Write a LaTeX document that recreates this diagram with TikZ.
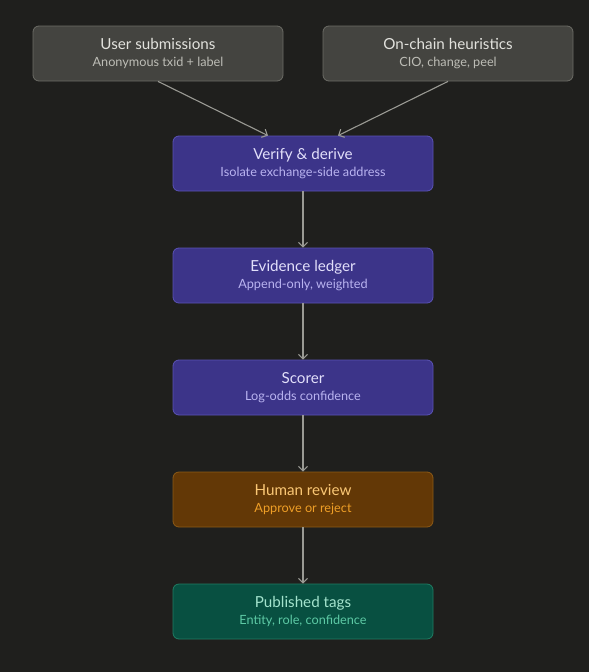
\documentclass[tikz,border=0pt]{standalone}
\usepackage{fontspec}
\setmainfont{Lato}
\usetikzlibrary{arrows.meta}
\definecolor{bg}{HTML}{1F1F1D}
\definecolor{grayfill}{HTML}{444440}
\definecolor{grayline}{HTML}{6C6C66}
\definecolor{graytitle}{HTML}{E2E2DD}
\definecolor{graysub}{HTML}{BDBDB6}
\definecolor{purfill}{HTML}{3C3489}
\definecolor{purline}{HTML}{5B53B5}
\definecolor{purtitle}{HTML}{E2DFFA}
\definecolor{pursub}{HTML}{B9B3F0}
\definecolor{brfill}{HTML}{633806}
\definecolor{brline}{HTML}{8C5A16}
\definecolor{brtitle}{HTML}{FAC775}
\definecolor{brsub}{HTML}{EF9F27}
\definecolor{grfill}{HTML}{085041}
\definecolor{grline}{HTML}{1F7D63}
\definecolor{grtitle}{HTML}{A3E3CD}
\definecolor{grsub}{HTML}{5DCAA5}
\definecolor{arrowc}{HTML}{9A9A94}
\tikzset{
  box/.style={rounded corners=6pt, line width=0.8pt, minimum height=55pt, inner sep=0pt, align=center},
  graybox/.style={box, draw=grayline, fill=grayfill, minimum width=250pt},
  purbox/.style={box, draw=purline, fill=purfill, minimum width=260pt},
  brbox/.style={box, draw=brline, fill=brfill, minimum width=260pt},
  grbox/.style={box, draw=grline, fill=grfill, minimum width=260pt},
  conn/.style={draw=arrowc, line width=1.1pt, -{Straight Barb[length=4.5pt,width=9pt,line width=1.1pt]}},
}
\newcommand{\boxtext}[4]{{\fontsize{15.2}{18}\selectfont\color{#1}#2}\\[4.5pt]{\fontsize{12.7}{15}\selectfont\color{#3}#4}}
\begin{document}
\begin{tikzpicture}[x=1pt,y=1pt]
\useasboundingbox[fill=bg] (0,0) rectangle (589,-672);
\node[graybox] (user) at (158,-53.5) {\boxtext{graytitle}{User submissions}{graysub}{Anonymous txid + label}};
\node[graybox] (chain) at (448,-53.5) {\boxtext{graytitle}{On-chain heuristics}{graysub}{CIO, change, peel}};
\node[purbox] (verify) at (303,-163.5) {\boxtext{purtitle}{Verify \& derive}{pursub}{Isolate exchange-side address}};
\node[purbox] (ledger) at (303,-275.5) {\boxtext{purtitle}{Evidence ledger}{pursub}{Append-only, weighted}};
\node[purbox] (scorer) at (303,-387.5) {\boxtext{purtitle}{Scorer}{pursub}{Log-odds confidence}};
\node[brbox] (review) at (303,-499.5) {\boxtext{brtitle}{Human review}{brsub}{Approve or reject}};
\node[grbox] (pub) at (303,-611.5) {\boxtext{grtitle}{Published tags}{grsub}{Entity, role, confidence}};
\draw[conn] (user.south) -- ([xshift=-35pt]verify.north);
\draw[conn] (chain.south) -- ([xshift=35pt]verify.north);
\draw[conn] (verify) -- (ledger);
\draw[conn] (ledger) -- (scorer);
\draw[conn] (scorer) -- (review);
\draw[conn] (review) -- (pub);
\end{tikzpicture}
\end{document}
